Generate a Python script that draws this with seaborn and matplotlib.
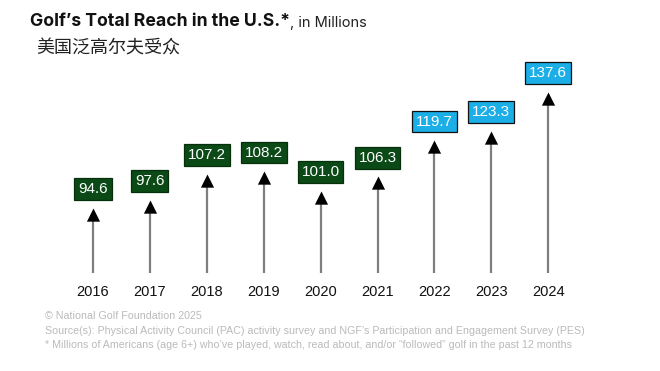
import matplotlib
matplotlib.use("Agg")
import matplotlib.pyplot as plt
import seaborn as sns
import pandas as pd

years = ["2016", "2017", "2018", "2019", "2020", "2021", "2022", "2023", "2024"]
reach = [94.6, 97.6, 107.2, 108.2, 101.0, 106.3, 119.7, 123.3, 137.6]
box_colors = ["#0b4a16"] * 6 + ["#1caee6"] * 3
edge_colors = ["#06300c"] * 6 + ["#111111"] * 3

title_bold = "Golf\u2019s Total Reach in the U.S.*"
title_rest = ", in Millions"
subtitle = "美国泛高尔夫受众"
footer = [
    "\u00a9 National Golf Foundation 2025",
    "Source(s): Physical Activity Council (PAC) activity survey and NGF\u2019s Participation and Engagement Survey (PES)",
    "* Millions of Americans (age 6+) who\u2019ve played, watch, read about, and/or \u201cfollowed\u201d golf in the past 12 months",
]

df = pd.DataFrame({"year": years, "reach": reach})
df["x"] = range(len(df))

sns.set_style("white")
plt.rcParams["font.family"] = ["Liberation Sans", "Noto Sans CJK SC", "DejaVu Sans"]

fig = plt.figure(figsize=(6.6, 3.71), dpi=100)
ax = fig.add_axes([0, 0, 1, 1])
ax.set_xlim(-93 / 56.9, (660 - 93) / 56.9)
ax.set_ylim(34.2, 171.7)
ax.axis("off")

# shafts
base = 70.5
ax.vlines(df["x"], base, df["reach"] - 4.2, color="#7f7f7f", lw=1.6, zorder=1)

# arrow heads, tip sitting on the value
head = [(0, 0), (-0.5, -1), (0.5, -1), (0, 0)]
sns.scatterplot(data=df, x="x", y="reach", marker=head, s=360, color="black",
                edgecolor="black", linewidth=0, ax=ax, zorder=3, legend=False)

# value boxes + year labels
for i, r in df.iterrows():
    ax.annotate(f"{r['reach']:.1f}", (r["x"], r["reach"]), xytext=(0, 13.5),
                textcoords="offset points", ha="center", va="center",
                fontsize=11, color="white",
                bbox=dict(boxstyle="square,pad=0.25", fc=box_colors[i],
                          ec=edge_colors[i], lw=0.9))
    ax.text(r["x"], 63.5, r["year"], ha="center", va="center",
            fontsize=10.5, color="#111111")

ttl = fig.text(30 / 660, 1 - 22 / 371, title_bold, fontsize=12.7, fontweight="bold",
               family=["Inter", "DejaVu Sans"], color="#111111", va="center")
fig.canvas.draw()
bb = ttl.get_window_extent()
fig.text(bb.x1 / 660, 1 - 23 / 371, title_rest, fontsize=10.5,
         family=["Inter", "DejaVu Sans"], color="#222222", va="center")
fig.text(36 / 660, 1 - 49 / 371, subtitle, fontsize=13,
         family=["Noto Sans CJK SC", "DejaVu Sans"], color="#222222", va="center")

for k, line in enumerate(footer):
    fig.text(45 / 660, 1 - (316 + 14.5 * k) / 371, line, fontsize=7.7,
             color="#bababa", va="center")

plt.savefig("out.png", dpi=100)
plt.close()
